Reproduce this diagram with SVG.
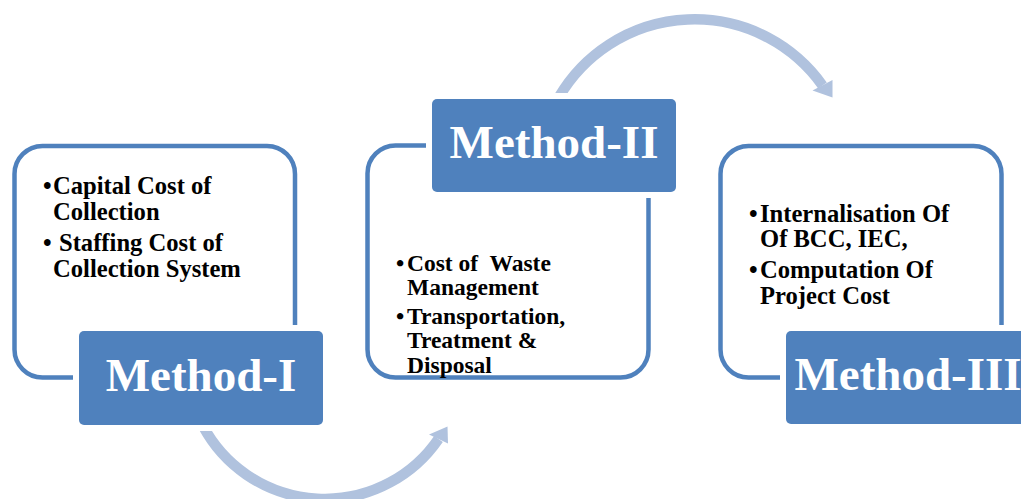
<svg xmlns="http://www.w3.org/2000/svg" width="1021" height="499" viewBox="0 0 1021 499">
  <style>
    .frame { fill: none; stroke: #4F81BD; stroke-width: 4.5; }
    .gap { fill: #FFFFFF; }
    .label { fill: #4F81BD; }
    .title { font-family: "Liberation Serif", "Times New Roman", serif; font-weight: bold; font-size: 47px; fill: #FFFFFF; text-anchor: middle; }
    .body { font-family: "Liberation Serif", "Times New Roman", serif; font-weight: bold; font-size: 24.6px; fill: #000000; white-space: pre; }
    .body.tight { font-size: 23.5px; }
    .flow { fill: none; stroke: #B0C2DE; stroke-width: 10.5; }
    .head { fill: #B0C2DE; }
  </style>

  <rect width="1021" height="499" fill="#FFFFFF"/>

  <!-- curved flow arrows between the three methods -->
  <g id="connectors">
    <path class="flow" d="M 203,426 A 138 138 0 0 0 438.5,439"/>
    <polygon class="head" points="429,434.5 447.5,426.5 448,443.5"/>
    <path class="flow" d="M 559,97 A 157 157 0 0 1 822.5,85.5"/>
    <polygon class="head" points="812.5,90.5 832.5,80 832.5,97.5"/>
  </g>

  <!-- Method I -->
  <g id="method-1">
    <rect class="frame" x="14.5" y="146" width="280.5" height="231.5" rx="28"/>
    <text class="body"><tspan x="43" y="194">•</tspan><tspan x="53" y="194">Capital Cost of</tspan></text>
    <text class="body" x="53" y="220">Collection</text>
    <text class="body"><tspan x="43" y="251">•</tspan><tspan x="59" y="251">Staffing Cost of</tspan></text>
    <text class="body" x="53" y="277">Collection System</text>
    <rect class="gap" x="73" y="325" width="256" height="106" rx="8"/>
    <rect class="label" x="79" y="331" width="244" height="94" rx="5"/>
    <text class="title" x="201" y="391">Method-I</text>
  </g>

  <!-- Method II -->
  <g id="method-2">
    <rect class="frame" x="367.5" y="145.5" width="281" height="232" rx="28"/>
    <text class="body tight"><tspan x="396" y="271">•</tspan><tspan x="407" y="271">Cost of  Waste</tspan></text>
    <text class="body tight" x="407" y="295">Management</text>
    <text class="body tight"><tspan x="396" y="324">•</tspan><tspan x="407" y="324">Transportation,</tspan></text>
    <text class="body tight" x="407" y="348">Treatment &amp;</text>
    <text class="body tight" x="407" y="373">Disposal</text>
    <rect class="gap" x="426" y="93" width="256" height="105" rx="8"/>
    <rect class="label" x="432" y="99" width="244" height="93" rx="5"/>
    <text class="title" x="554" y="158">Method-II</text>
  </g>

  <!-- Method III -->
  <g id="method-3">
    <rect class="frame" x="720.5" y="146" width="281" height="231.5" rx="28"/>
    <text class="body"><tspan x="749" y="222">•</tspan><tspan x="760" y="222">Internalisation Of</tspan></text>
    <text class="body" x="760" y="247">Of BCC, IEC,</text>
    <text class="body"><tspan x="749" y="278">•</tspan><tspan x="760" y="278">Computation Of</tspan></text>
    <text class="body" x="760" y="304">Project Cost</text>
    <rect class="gap" x="780" y="325" width="256" height="105" rx="8"/>
    <rect class="label" x="786" y="331" width="244" height="93" rx="5"/>
    <text class="title" x="908" y="390">Method-III</text>
  </g>
</svg>
